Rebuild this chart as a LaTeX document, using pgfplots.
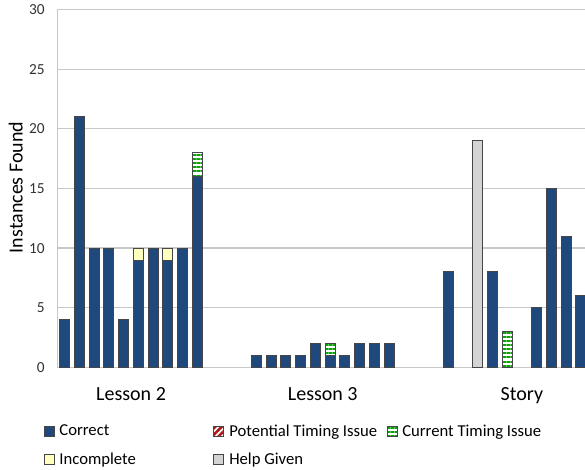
\documentclass[border=0pt]{standalone}
\usepackage{fontspec}
\setmainfont{Carlito}
\usepackage{pgfplots}
\usepackage{pgfplotstable}
\pgfplotsset{compat=1.18}
\usetikzlibrary{patterns.meta}

\definecolor{corr}{RGB}{31,73,125}
\definecolor{incom}{RGB}{255,255,192}
\definecolor{helpg}{RGB}{212,212,212}
\definecolor{curgreen}{RGB}{10,165,10}
\definecolor{potred}{RGB}{170,25,25}
\definecolor{barline}{RGB}{70,70,70}
\definecolor{gridc}{RGB}{200,200,200}

% slot = bar position; groups: Lesson 2 (0-9), Lesson 3 (13-22), Story (26-35)
\pgfplotstableread{
x  correct current incomplete help
0  4  0 0 0
1  21 0 0 0
2  10 0 0 0
3  10 0 0 0
4  4  0 0 0
5  9  0 1 0
6  10 0 0 0
7  9  0 1 0
8  10 0 0 0
9  16 2 0 0
13 1  0 0 0
14 1  0 0 0
15 1  0 0 0
16 1  0 0 0
17 2  0 0 0
18 1  1 0 0
19 1  0 0 0
20 2  0 0 0
21 2  0 0 0
22 2  0 0 0
26 8  0 0 0
28 0  0 0 19
29 8  0 0 0
30 0  3 0 0
32 5  0 0 0
33 15 0 0 0
34 11 0 0 0
35 6  0 0 0
}\datatable

\begin{document}
\begin{tikzpicture}[x=1pt,y=1pt]
\useasboundingbox (0,0) rectangle (438.75,351.75);
\begin{axis}[
  at={(42.98pt,76.28pt)}, anchor=south west,
  scale only axis, width=395.8pt, height=268.2pt,
  ybar stacked, bar width=0.68,
  xmin=-0.5, xmax=35.28, ymin=0, ymax=30,
  enlargelimits=false,
  axis lines*=left,
  axis line style={draw=gridc, line width=0.9pt, -},
  ymajorgrids, grid style={draw=gridc, line width=0.9pt},
  major tick length=0pt,
  ytick={0,5,...,30},
  xtick={4.5,17.5,31},
  xticklabels={Lesson 2, Lesson 3, Story},
  /pgf/number format/assume math mode=true,
  yticklabel style={font=\fontsize{11.5}{13}\selectfont, text=black!80, xshift=-6pt},
  xticklabel style={font=\fontsize{15}{17}\selectfont, yshift=-12pt},
  ylabel={Instances Found},
  ylabel style={font=\fontsize{15}{17}\selectfont, at={(axis description cs:-0.0786,0.503)}, anchor=center},
  every axis plot/.append style={draw=barline, line width=0.75pt},
  legend image code/.code={\draw[#1] (0pt,-3.75pt) rectangle (7.5pt,3.75pt);},
  legend columns=3,
  legend cell align=left,
  legend style={draw=none, fill=none, font=\fontsize{12.5}{14}\selectfont,
    at={(axis description cs:-0.0338,-0.145)}, anchor=north west,
    row sep=7pt,
    /tikz/every odd column/.append style={column sep=1.5pt},
    /tikz/every even column/.append style={column sep=0pt}},
]
\addplot[fill=corr] table[x=x,y=correct]{\datatable};
\addlegendentry{\makebox[112.5pt][l]{Correct}}
\addlegendimage{draw=barline, line width=0.75pt, pattern={Lines[angle=45,distance=3.4pt,line width=1.9pt]}, pattern color=potred}
\addlegendentry{\makebox[116pt][l]{Potential Timing Issue}}
\addplot[pattern={Lines[angle=0,distance=3.1pt,line width=1.5pt]}, pattern color=curgreen] table[x=x,y=current]{\datatable};
\addlegendentry{Current Timing Issue}
\addplot[fill=incom] table[x=x,y=incomplete]{\datatable};
\addlegendentry{Incomplete}
\addplot[fill=helpg] table[x=x,y=help]{\datatable};
\addlegendentry{Help Given}
\end{axis}
\end{tikzpicture}
\end{document}
